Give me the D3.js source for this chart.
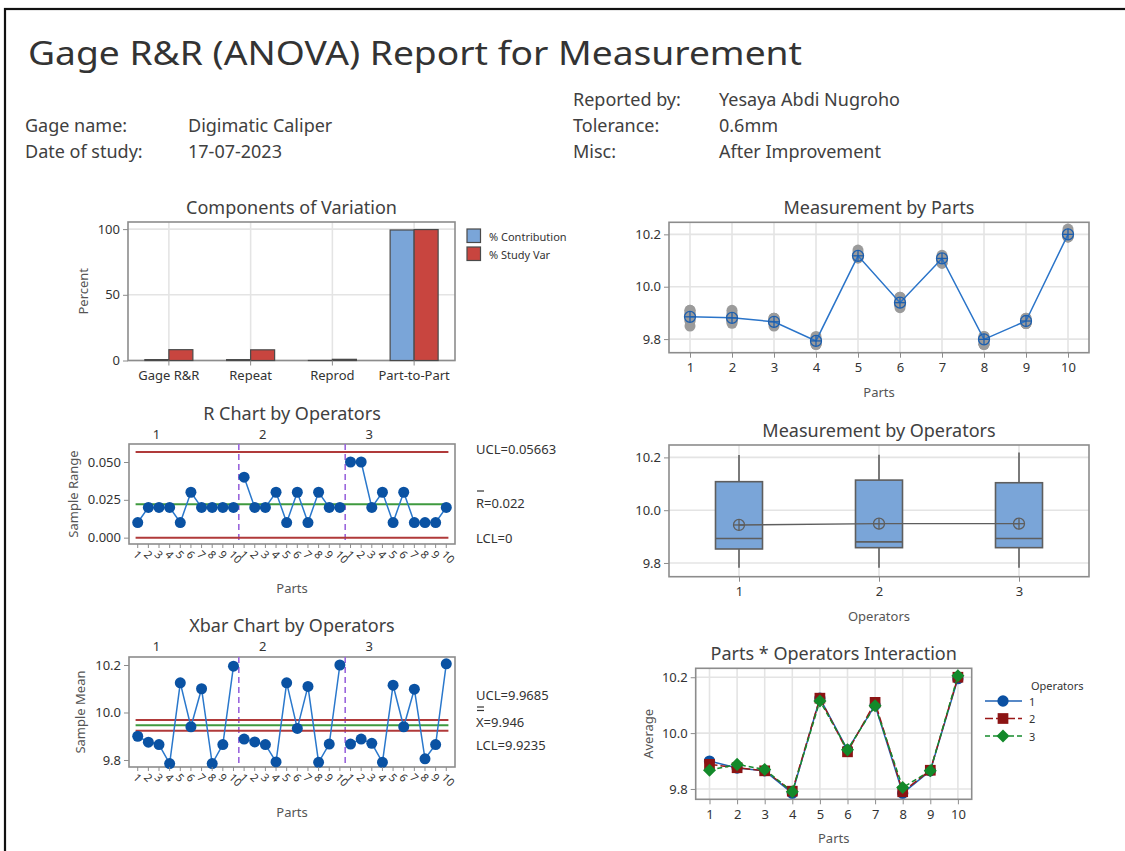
<!DOCTYPE html>
<html><head><meta charset="utf-8">
<script src="https://cdn.jsdelivr.net/npm/d3@7"></script>
<style>
body{margin:0;background:#fff}
text{font-family:"Noto Sans","Open Sans",sans-serif}
</style>
</head><body>
<svg id="c" width="1125" height="851"></svg>
<script>
// ---------------- DATA ----------------
const reportTitle = "Gage R&R (ANOVA) Report for Measurement";
const headerLeftLabels = ["Gage name:", "Date of study:"];
const headerLeftValues = ["Digimatic Caliper", "17-07-2023"];
const headerRightLabels = ["Reported by:", "Tolerance:", "Misc:"];
const headerRightValues = ["Yesaya Abdi Nugroho", "0.6mm", "After Improvement"];

const components = ["Gage R&R", "Repeat", "Reprod", "Part-to-Part"];
const pctContribution = [0.68, 0.66, 0.02, 99.32];
const pctStudyVar = [8.24, 8.12, 0.9, 99.66];
const componentSeries = ["% Contribution", "% Study Var"];
const percentTicks = [0, 50, 100];

const parts = [1, 2, 3, 4, 5, 6, 7, 8, 9, 10];
const operators = ["1", "2", "3"];

const rangeOp1 = [0.01, 0.02, 0.02, 0.02, 0.01, 0.03, 0.02, 0.02, 0.02, 0.02];
const rangeOp2 = [0.04, 0.02, 0.02, 0.03, 0.01, 0.03, 0.01, 0.03, 0.02, 0.02];
const rangeOp3 = [0.05, 0.05, 0.02, 0.03, 0.01, 0.03, 0.01, 0.01, 0.01, 0.02];
const rangeTicks = [0, 0.025, 0.05];
const rLimits = [0.05663, 0.022, 0];          // UCL, R-bar, LCL

const xbarOp1 = [9.900, 9.875, 9.865, 9.785, 10.125, 9.940, 10.100, 9.785, 9.865, 10.195];
const xbarOp2 = [9.888, 9.876, 9.865, 9.792, 10.125, 9.933, 10.110, 9.790, 9.867, 10.200];
const xbarOp3 = [9.867, 9.888, 9.870, 9.790, 10.115, 9.940, 10.098, 9.805, 9.865, 10.205];
const xbarLimits = [9.9685, 9.946, 9.9235];  // UCL, X-double-bar, LCL
const measureTicks = [9.8, 10.0, 10.2];

const partMeans = [9.885, 9.881, 9.866, 9.793, 10.118, 9.939, 10.108, 9.799, 9.869, 10.200];
const partMeasurements = [
  [9.90, 9.90, 9.91, 9.87, 9.89, 9.91, 9.85, 9.87, 9.89],
  [9.87, 9.87, 9.89, 9.87, 9.87, 9.89, 9.86, 9.90, 9.91],
  [9.86, 9.86, 9.88, 9.85, 9.87, 9.88, 9.86, 9.87, 9.88],
  [9.78, 9.78, 9.80, 9.79, 9.79, 9.80, 9.78, 9.79, 9.81],
  [10.12, 10.12, 10.13, 10.11, 10.12, 10.14, 10.11, 10.12, 10.12],
  [9.93, 9.93, 9.96, 9.92, 9.93, 9.95, 9.93, 9.93, 9.96],
  [10.09, 10.10, 10.11, 10.11, 10.11, 10.12, 10.09, 10.10, 10.10],
  [9.78, 9.78, 9.80, 9.78, 9.79, 9.81, 9.80, 9.80, 9.81],
  [9.86, 9.86, 9.88, 9.86, 9.86, 9.88, 9.86, 9.86, 9.87],
  [10.19, 10.19, 10.21, 10.19, 10.20, 10.21, 10.20, 10.20, 10.22]
];

const opWhiskerLow = [9.782, 9.782, 9.782];
const opQ1 = [9.853, 9.858, 9.858];
const opMedian = [9.893, 9.880, 9.893];
const opQ3 = [10.108, 10.114, 10.104];
const opWhiskerHigh = [10.209, 10.210, 10.219];
const opMean = [9.944, 9.949, 9.949];

// ---------------- HELPERS ----------------
const svg = d3.select("#c");
const FRAME = "#8c8c8c", GRID = "#e4e4e4", TXT = "#333", TTL = "#404040", AX = "#555";

function frame(x0, y0, x1, y1) {
  svg.append("rect").attr("x", x0).attr("y", y0).attr("width", x1 - x0).attr("height", y1 - y0)
    .attr("fill", "none").attr("stroke", FRAME).attr("stroke-width", 1.6);
}
function text(x, y, s, o = {}) {
  const t = svg.append("text").attr("x", x).attr("y", y).text(s)
    .attr("font-size", o.size || 13).attr("fill", o.fill || TXT)
    .attr("text-anchor", o.anchor || "start").attr("dominant-baseline", o.base || "central");
  if (o.rot) t.attr("transform", `rotate(${o.rot},${x},${y})`);
  if (o.len) t.attr("textLength", o.len).attr("lengthAdjust", "spacingAndGlyphs");
  return t;
}
function yAxisLeft(y, ticks, fmt, x0) {
  const g = svg.append("g").attr("transform", `translate(${x0},0)`);
  g.call(d3.axisLeft(y).tickValues(ticks).tickFormat(fmt).tickSize(5).tickPadding(3));
  g.select(".domain").remove();
  g.selectAll("line").attr("stroke", FRAME);
  g.selectAll("text").attr("font-size", 13).attr("fill", TXT).attr("font-family", null);
}
function xAxisBottom(x, ticks, fmt, y0, size = 13) {
  const g = svg.append("g").attr("transform", `translate(0,${y0})`);
  g.call(d3.axisBottom(x).tickValues(ticks).tickFormat(fmt).tickSize(5).tickPadding(5));
  g.select(".domain").remove();
  g.selectAll("line").attr("stroke", FRAME);
  g.selectAll("text").attr("font-size", size).attr("fill", TXT).attr("font-family", null);
  return g;
}
function hgrid(y, ticks, x0, x1) {
  svg.append("g").selectAll("line").data(ticks).join("line")
    .attr("x1", x0).attr("x2", x1).attr("y1", d => y(d)).attr("y2", d => y(d))
    .attr("stroke", GRID).attr("stroke-width", 1.6);
}
function vgrid(xs, y0, y1) {
  svg.append("g").selectAll("line").data(xs).join("line")
    .attr("x1", d => d).attr("x2", d => d).attr("y1", y0).attr("y2", y1)
    .attr("stroke", GRID).attr("stroke-width", 1.6);
}
function meanMarker(g, cx, cy, r, col) {
  g.append("circle").attr("cx", cx).attr("cy", cy).attr("r", r).attr("fill", "none").attr("stroke", col).attr("stroke-width", 1.3);
  g.append("line").attr("x1", cx - r).attr("x2", cx + r).attr("y1", cy).attr("y2", cy).attr("stroke", col).attr("stroke-width", 1.3);
  g.append("line").attr("x1", cx).attr("x2", cx).attr("y1", cy - r).attr("y2", cy + r).attr("stroke", col).attr("stroke-width", 1.3);
}
function overbar(x0, x1, y) {
  svg.append("line").attr("x1", x0).attr("x2", x1).attr("y1", y).attr("y2", y).attr("stroke", TXT).attr("stroke-width", 1.2);
}

// ---------------- PAGE FRAME & HEADER ----------------
svg.append("rect").attr("x", 5).attr("y", 9).attr("width", 1140).attr("height", 860)
  .attr("fill", "none").attr("stroke", "#111").attr("stroke-width", 2.2);

text(28, 52, reportTitle, { size: 33, fill: "#333", len: 774 });
headerLeftLabels.forEach((s, i) => {
  text(25, 125 + i * 26, s, { size: 18, fill: TTL });
  text(188, 125 + i * 26, headerLeftValues[i], { size: 18, fill: TTL });
});
headerRightLabels.forEach((s, i) => {
  text(573, 99 + i * 26, s, { size: 18, fill: TTL });
  text(719, 99 + i * 26, headerRightValues[i], { size: 18, fill: TTL });
});

// ---------------- COMPONENTS OF VARIATION ----------------
(function () {
  const L = 128, R = 455, T = 222, B = 360.5;
  const x = d3.scaleBand().domain(components).range([L, R]);
  const y = d3.scaleLinear().domain([0, 105.4]).range([B, T]);
  const sub = d3.scaleBand().domain(componentSeries).range([-24, 24]);
  hgrid(y, percentTicks, L, R);
  vgrid(components.map(c => x(c) + x.bandwidth() / 2), T, B);
  frame(L, T, R, B);
  const cols = ["#7aa5d8", "#c8453f"];
  [pctContribution, pctStudyVar].forEach((vals, si) => {
    svg.append("g").selectAll("rect").data(components).join("rect")
      .attr("x", c => x(c) + x.bandwidth() / 2 + sub(componentSeries[si]))
      .attr("width", sub.bandwidth())
      .attr("y", (c, i) => y(vals[i]))
      .attr("height", (c, i) => y(0) - y(vals[i]))
      .attr("fill", cols[si]).attr("stroke", "#4a4a4a").attr("stroke-width", 1.2);
  });
  yAxisLeft(y, percentTicks, d3.format("d"), L);
  xAxisBottom(x, components, d => d, B);
  text((L + R) / 2, 207, "Components of Variation", { size: 18, fill: TTL, anchor: "middle" });
  text(83, (T + B) / 2, "Percent", { size: 13, fill: AX, anchor: "middle", rot: -90 });
  componentSeries.forEach((s, i) => {
    svg.append("rect").attr("x", 467).attr("y", 229 + i * 18).attr("width", 13.5).attr("height", 13.5)
      .attr("fill", cols[i]).attr("stroke", "#4a4a4a").attr("stroke-width", 1.2);
    text(489, 236 + i * 18, s, { size: 11, fill: TXT });
  });
})();

// ---------------- CONTROL CHARTS ----------------
function controlChart(opts) {
  const { L, R, T, B, y, series, limits, ticks, fmt, title, titleY, ylabel, ylabelX, xlabelY, limitLabels, lineY } = opts;
  const x = d3.scaleLinear().domain([0.18, 30.82]).range([L, R]);
  frame(L, T, R, B);
  [10.5, 20.5].forEach(v => svg.append("line").attr("x1", x(v)).attr("x2", x(v)).attr("y1", T).attr("y2", B)
    .attr("stroke", "#9a66dd").attr("stroke-width", 1.6).attr("stroke-dasharray", "6,4"));
  const limCols = ["#b03a3a", "#3f9a3f", "#b03a3a"];
  limits.forEach((v, i) => svg.append("line").attr("x1", x(0.8)).attr("x2", x(30.2)).attr("y1", y(v)).attr("y2", y(v))
    .attr("stroke", limCols[i]).attr("stroke-width", 2));
  operators.forEach((o, k) => text(x(k * 10 + 1) + 15, titleY + 21, o, { size: 13, fill: TXT }));
  const line = d3.line().x(d => x(d.i)).y(d => y(d.v));
  series.forEach((vals, k) => {
    const pts = vals.map((v, j) => ({ i: k * 10 + j + 1, v }));
    svg.append("path").datum(pts).attr("d", line).attr("fill", "none").attr("stroke", "#2a78cc").attr("stroke-width", 1.5);
    svg.append("g").selectAll("circle").data(pts).join("circle")
      .attr("cx", d => x(d.i)).attr("cy", d => y(d.v)).attr("r", 5.5).attr("fill", "#0a52a3");
  });
  yAxisLeft(y, ticks, fmt, L);
  const idx = d3.range(1, 31);
  svg.append("g").selectAll("line").data(idx).join("line")
    .attr("x1", d => x(d)).attr("x2", d => x(d)).attr("y1", B).attr("y2", B + 4).attr("stroke", FRAME);
  svg.append("g").selectAll("text").data(idx).join("text")
    .attr("transform", d => `translate(${x(d) - 2},${B + 8}) rotate(45)`)
    .attr("font-size", 11).attr("fill", TXT).attr("dominant-baseline", "central")
    .text(d => parts[(d - 1) % 10]);
  text((L + R) / 2, titleY, title, { size: 18, fill: TTL, anchor: "middle" });
  text(ylabelX, (T + B) / 2, ylabel, { size: 13, fill: AX, anchor: "middle", rot: -90 });
  text((L + R) / 2, xlabelY, "Parts", { size: 13, fill: AX, anchor: "middle" });
  limitLabels.forEach((s, i) => text(476, lineY[i], s, { size: 13, fill: TXT }));
}

controlChart({
  L: 129, R: 455, T: 444, B: 544,
  y: d3.scaleLinear().domain([-0.0042, 0.0619]).range([544, 444]),
  series: [rangeOp1, rangeOp2, rangeOp3], limits: rLimits, ticks: rangeTicks, fmt: d3.format(".3f"),
  title: "R Chart by Operators", titleY: 413, ylabel: "Sample Range", ylabelX: 73, xlabelY: 588,
  limitLabels: ["UCL=" + rLimits[0], "R=" + rLimits[1], "LCL=" + rLimits[2]], lineY: [449, 503, 538]
});
overbar(477, 484, 491);

controlChart({
  L: 129, R: 455, T: 657, B: 767,
  y: d3.scaleLinear().domain([9.7705, 10.2337]).range([767, 657]),
  series: [xbarOp1, xbarOp2, xbarOp3], limits: xbarLimits, ticks: measureTicks, fmt: d3.format(".1f"),
  title: "Xbar Chart by Operators", titleY: 625, ylabel: "Sample Mean", ylabelX: 80, xlabelY: 812,
  limitLabels: ["UCL=" + xbarLimits[0], "X=" + xbarLimits[1], "LCL=" + xbarLimits[2]], lineY: [695, 722, 745]
});
overbar(477, 484, 707);
overbar(477, 484, 710.5);

// ---------------- MEASUREMENT BY PARTS ----------------
(function () {
  const L = 669, R = 1089, T = 222.3, B = 352.7;
  const x = d3.scalePoint().domain(parts).range([L, R]).padding(0.5);
  const y = d3.scaleLinear().domain([9.748, 10.246]).range([B, T]);
  hgrid(y, measureTicks, L, R);
  vgrid(parts.map(p => x(p)), T, B);
  frame(L, T, R, B);
  const g = svg.append("g");
  partMeasurements.forEach((vals, i) => {
    g.append("g").selectAll("circle").data(vals).join("circle")
      .attr("cx", x(parts[i])).attr("cy", d => y(d)).attr("r", 5.5).attr("fill", "#9b9b9b");
  });
  svg.append("path").datum(partMeans).attr("d", d3.line().x((d, i) => x(parts[i])).y(d => y(d)))
    .attr("fill", "none").attr("stroke", "#2a74c9").attr("stroke-width", 1.5);
  const mg = svg.append("g");
  partMeans.forEach((v, i) => meanMarker(mg, x(parts[i]), y(v), 5.5, "#1d5fae"));
  yAxisLeft(y, measureTicks, d3.format(".1f"), L);
  xAxisBottom(x, parts, d => d, B);
  text((L + R) / 2, 207, "Measurement by Parts", { size: 18, fill: TTL, anchor: "middle" });
  text((L + R) / 2, 392, "Parts", { size: 13, fill: AX, anchor: "middle" });
})();

// ---------------- MEASUREMENT BY OPERATORS ----------------
(function () {
  const L = 669, R = 1089, T = 445, B = 576.7;
  const x = d3.scalePoint().domain(operators).range([L, R]).padding(0.5);
  const y = d3.scaleLinear().domain([9.748, 10.247]).range([B, T]);
  hgrid(y, measureTicks, L, R);
  vgrid(operators.map(o => x(o)), T, B);
  frame(L, T, R, B);
  const bw = 47, col = "#5e5e5e";
  operators.forEach((o, i) => {
    const cx = x(o);
    svg.append("line").attr("x1", cx).attr("x2", cx).attr("y1", y(opWhiskerLow[i])).attr("y2", y(opQ1[i])).attr("stroke", col).attr("stroke-width", 1.6);
    svg.append("line").attr("x1", cx).attr("x2", cx).attr("y1", y(opQ3[i])).attr("y2", y(opWhiskerHigh[i])).attr("stroke", col).attr("stroke-width", 1.6);
    svg.append("rect").attr("x", cx - bw / 2).attr("width", bw).attr("y", y(opQ3[i])).attr("height", y(opQ1[i]) - y(opQ3[i]))
      .attr("fill", "#7aa5d8").attr("stroke", col).attr("stroke-width", 1.6);
    svg.append("line").attr("x1", cx - bw / 2).attr("x2", cx + bw / 2).attr("y1", y(opMedian[i])).attr("y2", y(opMedian[i])).attr("stroke", col).attr("stroke-width", 1.6);
  });
  svg.append("path").datum(opMean).attr("d", d3.line().x((d, i) => x(operators[i])).y(d => y(d)))
    .attr("fill", "none").attr("stroke", col).attr("stroke-width", 1.4);
  const mg = svg.append("g");
  opMean.forEach((v, i) => meanMarker(mg, x(operators[i]), y(v), 5.5, col));
  yAxisLeft(y, measureTicks, d3.format(".1f"), L);
  xAxisBottom(x, operators, d => d, B);
  text((L + R) / 2, 430, "Measurement by Operators", { size: 18, fill: TTL, anchor: "middle" });
  text((L + R) / 2, 616, "Operators", { size: 13, fill: AX, anchor: "middle" });
})();

// ---------------- INTERACTION ----------------
(function () {
  const L = 695.7, R = 971.7, T = 668.3, B = 799.3;
  const x = d3.scalePoint().domain(parts).range([L, R]).padding(0.5);
  const y = d3.scaleLinear().domain([9.763, 10.232]).range([B, T]);
  hgrid(y, measureTicks, L, R);
  vgrid(parts.map(p => x(p)), T, B);
  frame(L, T, R, B);
  const cols = ["#1f62b5", "#9a1818", "#168a2c"];
  const fills = ["#0b50a2", "#8c1414", "#13892a"];
  const dashes = [null, "8,3", "5,3"];
  const syms = [d3.symbolCircle, d3.symbolSquare, d3.symbolSquare];
  const sizes = [100, 115, 85];
  const rots = [0, 0, 45];
  const series = [xbarOp1, xbarOp2, xbarOp3];
  const line = d3.line().x((d, i) => x(parts[i])).y(d => y(d));
  series.forEach((vals, k) => {
    svg.append("path").datum(vals).attr("d", line).attr("fill", "none").attr("stroke", cols[k])
      .attr("stroke-width", 1.5).attr("stroke-dasharray", dashes[k]);
    svg.append("g").selectAll("path").data(vals).join("path")
      .attr("d", d3.symbol().type(syms[k]).size(sizes[k]))
      .attr("transform", (d, i) => `translate(${x(parts[i])},${y(d)}) rotate(${rots[k]})`).attr("fill", fills[k]);
  });
  yAxisLeft(y, measureTicks, d3.format(".1f"), L);
  xAxisBottom(x, parts, d => d, B);
  text((L + R) / 2, 653, "Parts * Operators Interaction", { size: 18, fill: TTL, anchor: "middle" });
  text((L + R) / 2, 838, "Parts", { size: 13, fill: AX, anchor: "middle" });
  text(648, (T + B) / 2, "Average", { size: 13, fill: AX, anchor: "middle", rot: -90 });
  text(1031, 685, "Operators", { size: 11, fill: TXT });
  operators.forEach((o, k) => {
    const ly = 701 + k * 17.5;
    svg.append("line").attr("x1", 985).attr("x2", 1022).attr("y1", ly).attr("y2", ly).attr("stroke", cols[k])
      .attr("stroke-width", 1.5).attr("stroke-dasharray", dashes[k]);
    svg.append("path").attr("d", d3.symbol().type(syms[k]).size(sizes[k])())
      .attr("transform", `translate(1003,${ly}) rotate(${rots[k]})`).attr("fill", fills[k]);
    text(1029, ly, o, { size: 11, fill: TXT });
  });
})();
</script>
</body></html>
